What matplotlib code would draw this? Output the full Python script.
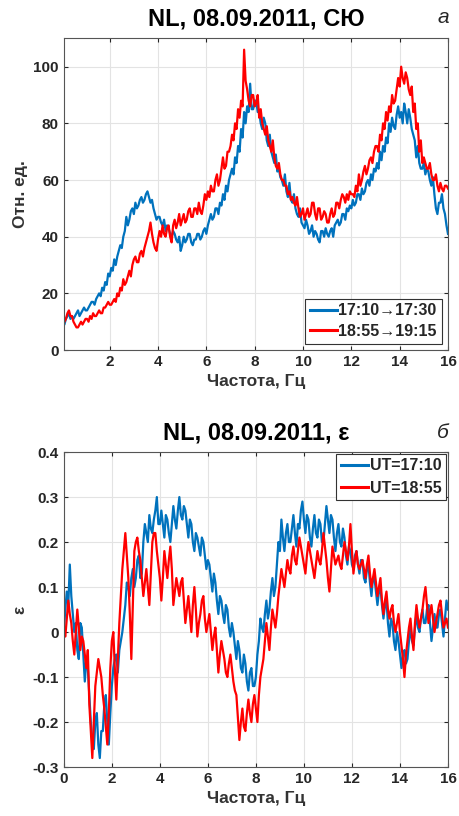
import numpy as np
import matplotlib
matplotlib.use("Agg")
import matplotlib.pyplot as plt

# top panel: relative units, step 1/16 Hz starting at 0.0625
freq_top = np.arange(1, 257) * 0.0625
su_1710 = [10, 9, 11, 12, 13, 11, 12, 11, 12, 13, 14, 12, 13, 14, 15, 14,
           14, 15, 16, 17, 17, 16, 18, 19, 20, 19, 22, 21, 24, 23, 27, 26,
           29, 28, 32, 30, 33, 35, 37, 36, 40, 42, 47, 44, 46, 49, 50, 48,
           52, 50, 51, 53, 54, 52, 53, 55, 56, 54, 52, 53, 50, 48, 46, 47,
           47, 45, 44, 46, 42, 44, 43, 41, 40, 42, 41, 39, 38, 40, 35, 37,
           40, 38, 39, 41, 41, 38, 37, 39, 39, 41, 41, 39, 40, 42, 43, 41,
           44, 46, 48, 46, 47, 50, 50, 48, 52, 51, 55, 53, 58, 56, 60, 62,
           64, 62, 68, 66, 72, 70, 78, 75, 84, 80, 86, 84, 94, 85, 85, 88,
           88, 84, 84, 80, 78, 82, 80, 74, 72, 76, 70, 68, 66, 69, 63, 64,
           61, 60, 58, 62, 56, 54, 59, 53, 52, 55, 50, 48, 47, 50, 45, 44,
           43, 46, 44, 41, 42, 44, 40, 42, 41, 39, 38, 42, 42, 40, 43, 41,
           40, 42, 43, 40, 44, 45, 46, 44, 45, 48, 48, 46, 50, 49, 51, 50,
           53, 51, 52, 55, 55, 53, 57, 55, 56, 59, 60, 58, 62, 60, 64, 63,
           66, 64, 70, 67, 72, 70, 75, 73, 80, 77, 82, 79, 78, 83, 86, 82,
           84, 80, 87, 84, 80, 85, 82, 78, 76, 74, 68, 72, 66, 64, 64, 66,
           62, 64, 63, 60, 58, 61, 55, 50, 48, 52, 52, 55, 50, 48, 44, 41]
su_1855 = [9, 10, 11, 13, 14, 12, 12, 10, 9, 8, 8, 9, 10, 9, 10, 11,
           11, 10, 12, 11, 13, 12, 12, 13, 14, 13, 13, 15, 15, 16, 17, 16,
           16, 17, 18, 17, 20, 19, 22, 21, 25, 23, 24, 26, 28, 26, 30, 32,
           33, 31, 31, 34, 35, 33, 36, 38, 40, 42, 45, 41, 38, 36, 35, 39,
           42, 40, 44, 41, 40, 43, 44, 40, 38, 44, 46, 43, 45, 48, 44, 46,
           48, 45, 46, 49, 50, 47, 47, 50, 50, 48, 52, 49, 48, 51, 55, 53,
           56, 54, 58, 56, 56, 60, 62, 58, 60, 64, 68, 64, 65, 70, 70, 72,
           76, 74, 80, 78, 85, 82, 88, 86, 106, 95, 92, 88, 86, 90, 90, 86,
           87, 90, 82, 85, 80, 78, 76, 79, 74, 72, 70, 74, 68, 65, 64, 66,
           62, 60, 60, 58, 58, 55, 56, 53, 54, 52, 51, 54, 50, 47, 48, 50,
           46, 48, 50, 47, 48, 52, 52, 48, 46, 50, 50, 46, 47, 49, 48, 45,
           45, 48, 50, 47, 48, 52, 52, 50, 53, 55, 54, 52, 55, 53, 56, 55,
           55, 54, 58, 56, 62, 58, 60, 63, 65, 62, 64, 67, 68, 66, 70, 72,
           72, 70, 76, 74, 80, 78, 84, 81, 86, 84, 90, 87, 88, 92, 96, 93,
           100, 96, 94, 98, 96, 92, 90, 93, 84, 87, 78, 80, 70, 74, 66, 68,
           66, 64, 64, 66, 62, 60, 60, 62, 58, 56, 59, 57, 56, 58, 58, 57]

# bottom panel: epsilon, step 1/16 Hz starting at 0
freq_bot = np.arange(0, 257) * 0.0625
eps_1710 = [0.00,
            0.05, 0.09, 0.06, 0.15, 0.08, 0.04, 0.00, 0.02, -0.04, -0.06, 0.02, 0.01, -0.05, -0.11, -0.06, -0.08,
            -0.14, -0.20, -0.24, -0.26, -0.20, -0.18, -0.25, -0.28, -0.22, -0.22, -0.16, -0.14, -0.20, -0.25, -0.18, -0.12,
            -0.08, -0.06, -0.05, -0.09, -0.04, -0.02, 0.00, 0.03, 0.06, 0.11, 0.10, 0.08, 0.12, 0.14, 0.10, 0.12,
            0.16, 0.17, 0.12, 0.13, 0.20, 0.24, 0.22, 0.20, 0.26, 0.23, 0.22, 0.25, 0.27, 0.30, 0.24, 0.24,
            0.27, 0.24, 0.21, 0.26, 0.25, 0.22, 0.20, 0.24, 0.28, 0.25, 0.23, 0.27, 0.30, 0.26, 0.25, 0.28,
            0.27, 0.24, 0.21, 0.25, 0.24, 0.20, 0.18, 0.22, 0.21, 0.19, 0.17, 0.21, 0.20, 0.17, 0.14, 0.16,
            0.15, 0.12, 0.09, 0.13, 0.11, 0.07, 0.04, 0.08, 0.07, 0.04, 0.02, 0.06, 0.05, 0.01, -0.01, 0.02,
            0.00, -0.03, -0.06, -0.02, -0.04, -0.08, -0.09, -0.05, -0.07, -0.11, -0.13, -0.09, -0.08, -0.12, -0.12, -0.10,
            -0.05, -0.02, 0.03, 0.01, 0.00, 0.04, 0.07, 0.03, 0.05, 0.09, 0.12, 0.08, 0.10, 0.15, 0.20, 0.18,
            0.25, 0.21, 0.18, 0.22, 0.24, 0.20, 0.20, 0.23, 0.26, 0.22, 0.19, 0.24, 0.23, 0.27, 0.29, 0.25,
            0.22, 0.26, 0.25, 0.21, 0.19, 0.23, 0.26, 0.22, 0.21, 0.25, 0.24, 0.20, 0.20, 0.24, 0.28, 0.25,
            0.22, 0.26, 0.25, 0.21, 0.18, 0.22, 0.24, 0.20, 0.19, 0.23, 0.21, 0.17, 0.15, 0.19, 0.18, 0.15,
            0.14, 0.17, 0.18, 0.15, 0.13, 0.16, 0.16, 0.12, 0.11, 0.14, 0.15, 0.11, 0.08, 0.12, 0.12, 0.09,
            0.06, 0.09, 0.10, 0.06, 0.03, 0.06, 0.07, 0.02, -0.01, 0.03, 0.02, -0.02, -0.04, 0.00, -0.02, -0.05,
            -0.08, -0.05, -0.04, -0.07, -0.06, -0.02, 0.01, -0.02, -0.03, 0.01, 0.04, 0.01, 0.00, 0.03, 0.05, 0.02,
            0.02, 0.05, 0.06, 0.02, -0.02, 0.01, 0.04, 0.01, 0.01, 0.04, 0.05, 0.02, -0.01, 0.03, 0.07, 0.05]
eps_1855 = [0.00,
            -0.01, 0.03, 0.07, 0.04, 0.02, -0.02, -0.05, 0.00, 0.05, 0.01, -0.04, -0.01, -0.02, -0.05, -0.08, -0.04,
            -0.16, -0.22, -0.28, -0.20, -0.12, -0.09, -0.06, -0.08, -0.10, -0.14, -0.17, -0.21, -0.25, -0.18, -0.08, -0.02,
            0.00, -0.08, -0.15, -0.06, 0.02, 0.08, 0.14, 0.18, 0.22, 0.17, 0.12, 0.04, -0.06, 0.06, 0.18, 0.20,
            0.21, 0.18, 0.16, 0.12, 0.08, 0.11, 0.14, 0.10, 0.06, 0.13, 0.20, 0.22, 0.22, 0.18, 0.15, 0.12,
            0.07, 0.12, 0.18, 0.15, 0.12, 0.16, 0.19, 0.14, 0.06, 0.09, 0.12, 0.10, 0.08, 0.11, 0.12, 0.07,
            0.02, 0.05, 0.08, 0.04, 0.00, 0.06, 0.10, 0.05, -0.01, 0.02, 0.04, 0.07, 0.08, 0.03, 0.00, 0.02,
            0.04, 0.00, -0.04, -0.01, 0.01, -0.04, -0.09, -0.05, -0.02, -0.04, -0.06, -0.09, -0.10, -0.07, -0.05, -0.08,
            -0.11, -0.13, -0.14, -0.19, -0.24, -0.20, -0.17, -0.21, -0.22, -0.18, -0.15, -0.18, -0.20, -0.16, -0.14, -0.17,
            -0.20, -0.14, -0.10, -0.08, -0.06, -0.02, 0.02, -0.01, -0.04, 0.01, 0.05, 0.03, 0.01, 0.04, 0.08, 0.11,
            0.14, 0.12, 0.10, 0.13, 0.16, 0.14, 0.13, 0.17, 0.19, 0.16, 0.15, 0.18, 0.21, 0.19, 0.17, 0.15,
            0.13, 0.17, 0.20, 0.18, 0.16, 0.14, 0.12, 0.15, 0.18, 0.16, 0.15, 0.18, 0.22, 0.19, 0.16, 0.12,
            0.09, 0.14, 0.19, 0.17, 0.15, 0.16, 0.17, 0.15, 0.14, 0.17, 0.20, 0.18, 0.16, 0.19, 0.24, 0.18,
            0.13, 0.16, 0.18, 0.15, 0.14, 0.15, 0.16, 0.14, 0.12, 0.15, 0.17, 0.13, 0.10, 0.12, 0.14, 0.11,
            0.08, 0.10, 0.12, 0.07, 0.04, 0.07, 0.09, 0.05, 0.03, 0.05, 0.06, 0.02, 0.00, 0.02, 0.04, 0.00,
            -0.03, -0.06, -0.10, -0.05, -0.02, 0.01, 0.03, -0.01, -0.04, 0.02, 0.06, 0.03, 0.01, 0.03, 0.05, 0.08,
            0.10, 0.06, 0.02, 0.04, 0.06, 0.03, 0.00, 0.02, 0.04, 0.06, 0.07, 0.04, 0.01, 0.02, 0.03, 0.01]

top_labels = ["17:10\u219217:30", "18:55\u219219:15"]
bot_labels = ["UT=17:10", "UT=18:55"]
bot_yticks = [-0.3, -0.2, -0.1, 0, 0.1, 0.2, 0.3, 0.4]
bot_yticklabels = ["-0.3", "-0.2", "-0.1", "0", "0.1", "0.2", "0.3", "0.4"]

BLUE = "#0072BD"
RED = "#FF0000"
TXT = "#262626"

plt.rcParams["font.family"] = ["Liberation Sans", "DejaVu Sans"]
plt.rcParams["font.weight"] = "bold"

fig = plt.figure(figsize=(4.59, 8.16), dpi=100)
ax1 = fig.add_axes([0.139, 0.571, 0.837, 0.382])
ax2 = fig.add_axes([0.139, 0.060, 0.837, 0.386])


def style(ax):
    ax.grid(True, color="#e3e3e3", lw=0.8)
    ax.set_axisbelow(True)
    for s in ax.spines.values():
        s.set_color("#555555")
        s.set_linewidth(0.8)
    ax.tick_params(direction="in", length=3, colors=TXT, labelsize=11,
                   top=True, right=True, labeltop=False, labelright=False)
    for lab in ax.get_xticklabels() + ax.get_yticklabels():
        lab.set_fontweight("bold")


def legend(ax, loc, spacing, pad):
    leg = ax.legend(loc=loc, fontsize=11.5, handlelength=1.7,
                    handletextpad=0.1, borderpad=0.3, labelspacing=spacing,
                    fancybox=False, edgecolor="#333333", framealpha=1,
                    borderaxespad=pad)
    leg.get_frame().set_linewidth(0.8)
    for t in leg.get_texts():
        t.set_fontweight("bold")
        t.set_color(TXT)
    for h in leg.get_lines():
        h.set_linewidth(2.2)


ax1.plot(freq_top, su_1710, color=BLUE, lw=1.6, label=top_labels[0])
ax1.plot(freq_top, su_1855, color=RED, lw=1.6, label=top_labels[1])
ax1.set_xlim(0.1, 16)
ax1.set_ylim(0, 110)
ax1.set_xticks(np.arange(2, 17, 2))
ax1.set_yticks(np.arange(0, 101, 20))
style(ax1)
ax1.set_xlabel("Частота, Гц", fontsize=12.5, fontweight="bold", color="#333333")
ax1.set_ylabel("Отн. ед.", fontsize=12.5, fontweight="bold", color="#333333")
ax1.set_title("NL, 08.09.2011, СЮ", fontsize=17, fontweight="bold", pad=9)
legend(ax1, "lower right", 0.35, 0.4)
fig.text(0.978, 0.978, "а", fontsize=15, style="italic",
         fontweight="normal", ha="right", va="center", color=TXT)

ax2.plot(freq_bot, eps_1710, color=BLUE, lw=1.6, label=bot_labels[0])
ax2.plot(freq_bot, eps_1855, color=RED, lw=1.6, label=bot_labels[1])
ax2.set_xlim(0, 16)
ax2.set_ylim(-0.3, 0.4)
ax2.set_xticks(np.arange(0, 17, 2))
ax2.set_yticks(bot_yticks)
ax2.set_yticklabels(bot_yticklabels)
style(ax2)
ax2.set_xlabel("Частота, Гц", fontsize=12.5, fontweight="bold", color="#333333")
ax2.set_ylabel("ε", fontsize=12.5, fontweight="bold", color="#333333")
ax2.set_title("NL, 08.09.2011, ε", fontsize=17, fontweight="bold", pad=9)
legend(ax2, "upper right", 0.45, 0.1)
fig.text(0.978, 0.470, "б", fontsize=15, style="italic",
         fontweight="normal", ha="right", va="center", color=TXT)

fig.savefig("out.png", dpi=100)
